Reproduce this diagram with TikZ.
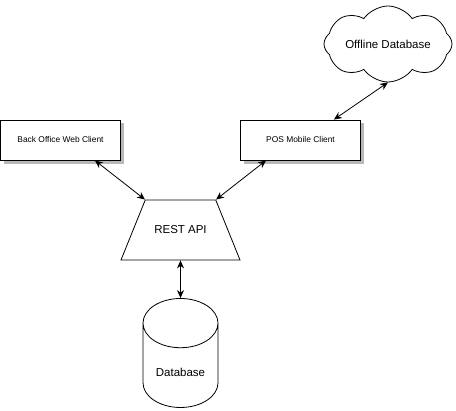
\documentclass[tikz,border=0pt]{standalone}
\usepackage{fontspec}
\setmainfont{Liberation Sans}
\usetikzlibrary{shapes.geometric, shapes.symbols, arrows.meta, backgrounds}
\tikzstyle{client} = [rectangle,
minimum width=120pt,
minimum height=40pt,
text centered,
draw=black,line width=0.8pt,fill=white,
font=\fontsize{8.4}{10}\selectfont]
\tikzstyle{shade} = [fill=black!28]
\tikzstyle{api} = [trapezium,
trapezium stretches body=true,
trapezium left angle=68,
trapezium right angle=68,
minimum width=119pt,
inner xsep=0pt,inner ysep=25pt,
text height=9pt,text depth=1pt,
text centered,
draw=black,line width=0.8pt,
font=\fontsize{11.5}{14}\selectfont]
\tikzstyle{store} = [cylinder,
shape border rotate=90,
aspect=1,
minimum width=75pt,
minimum height=109pt,
inner sep=0pt,
text centered,
draw=black,line width=0.8pt,
font=\fontsize{11.5}{14}\selectfont]
\tikzstyle{offline} = [cloud,
cloud puffs=8,
cloud puff arc=110,
cloud ignores aspect,
minimum width=128pt,
minimum height=76pt,
inner sep=0pt,
text centered,
draw=black,line width=0.8pt,
font=\fontsize{11.5}{14}\selectfont]
\tikzstyle{arrow} = [line width=0.8pt,{Stealth[length=8pt,width=7pt]}-{Stealth[length=8pt,width=7pt]}]
\begin{document}
\begin{tikzpicture}[x=1pt,y=-1pt]
\useasboundingbox (0,0) rectangle (456,411);

\node (backoffice) [client] at (60.5,140) {Back Office Web Client};
\node (pos) [client] at (300.5,140) {POS Mobile Client};
\node (offlinedb) [offline] at (388,44) {Offline Database};
\node (rest) [api] at (180.5,230) {REST API};
\node (db) [store] at (180.5,365.5) {\raisebox{-8pt}[9pt][3pt]{Database}};

% box shadows
\begin{scope}[on background layer]
\fill [shade] ([xshift=3.5pt,yshift=-3.5pt]backoffice.south west) rectangle ([xshift=3.5pt,yshift=-3.5pt]backoffice.north east);
\fill [shade] ([xshift=3.5pt,yshift=-3.5pt]pos.south west) rectangle ([xshift=3.5pt,yshift=-3.5pt]pos.north east);
\end{scope}

\draw [arrow] ([xshift=-26pt]backoffice.south east) -- (rest.top left corner);
\draw [arrow] ([xshift=26pt]pos.south west) -- (rest.top right corner);
\draw [arrow] (offlinedb.south) -- ([xshift=-27pt]pos.north east);
\draw [arrow] (rest.south) -- (db.north);

\end{tikzpicture}
\end{document}
